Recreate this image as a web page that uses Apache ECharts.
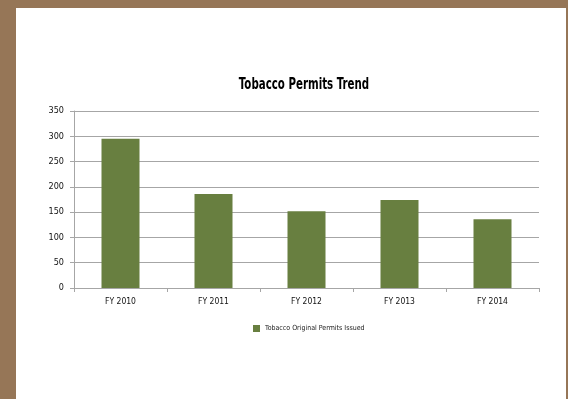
<!DOCTYPE html>
<html><head><meta charset="utf-8">
<script src="https://cdn.jsdelivr.net/npm/echarts@6/dist/echarts.min.js"></script>
<style>
html,body{margin:0;padding:0;width:568px;height:399px;background:#967657;overflow:hidden}
#c{position:absolute;left:16px;top:8px;width:550px;height:391px;background:#fff}
</style></head><body>
<div id="c"></div>
<script>
const categories = ['FY 2010','FY 2011','FY 2012','FY 2013','FY 2014'];
const permitsIssued = [295, 186, 152, 174, 136];
const seriesName = 'Tobacco Original Permits Issued';
const titleText = 'Tobacco Permits Trend';
const fontFam = '"Liberation Sans Narrow","DejaVu Sans Condensed",Arial,sans-serif';
const chart = echarts.init(document.getElementById('c'));
chart.setOption({
  animation:false,
  graphic:[{type:'text',x:288,y:77,scaleX:0.76,
    style:{text:titleText,align:'center',verticalAlign:'middle',
      fontFamily:fontFam,fontSize:15,fontWeight:'bold',fill:'#000'}}],
  legend:{left:232,top:312,itemWidth:7,itemHeight:7,itemGap:3,icon:'rect',
    textStyle:{fontFamily:fontFam,fontSize:7,color:'#222'},data:[seriesName]},
  grid:{left:58,right:27,top:103,height:177,containLabel:false},
  xAxis:{type:'category',data:categories,boundaryGap:true,
    axisLine:{lineStyle:{color:'#a6a6a6',width:1}},
    axisTick:{show:true,length:4,alignWithLabel:false,lineStyle:{color:'#a6a6a6'}},
    axisLabel:{fontFamily:fontFam,fontSize:8.5,color:'#111',margin:9}},
  yAxis:{type:'value',min:0,max:350,interval:50,
    axisLine:{show:true,lineStyle:{color:'#a6a6a6'}},
    axisTick:{show:true,length:4,inside:false,lineStyle:{color:'#a6a6a6'}},
    axisLabel:{fontFamily:fontFam,fontSize:9,color:'#111',margin:10},
    splitLine:{lineStyle:{color:'#a6a6a6',width:1}}},
  series:[{name:seriesName,type:'bar',data:permitsIssued,barWidth:38,
    itemStyle:{color:'#687f40'}}]
});
</script></body></html>
